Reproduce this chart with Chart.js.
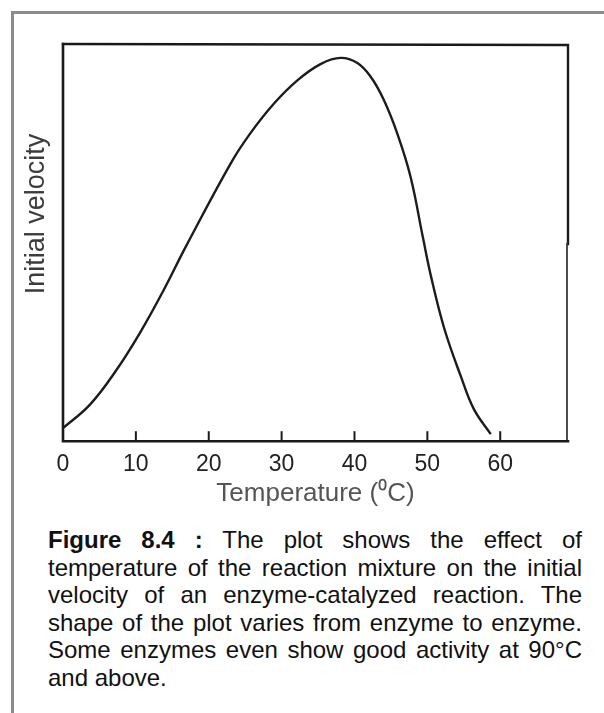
<!DOCTYPE html>
<html>
<head>
<meta charset="utf-8">
<script src="https://cdn.jsdelivr.net/npm/chart.js@4/dist/chart.umd.min.js"></script>
<style>
  html, body { margin: 0; padding: 0; background: #fff; }
  body { width: 604px; height: 713px; position: relative; overflow: hidden;
         font-family: "Liberation Sans", Arial, sans-serif; }
  .rule { position: absolute; background: #8c8c8c; }
  #ruleTop { left: 11px; top: 11px; width: 593px; height: 3px; }
  #ruleLeft { left: 11px; top: 11px; width: 3px; height: 702px; }
  #plot { position: absolute; left: 0; top: 0; }
  #caption { position: absolute; left: 48px; top: 526px; width: 534px;
             font-size: 24px; line-height: 27.6px; color: #111; }
  #caption div { text-align: justify; text-align-last: justify; white-space: nowrap; }
  #caption div.last { text-align-last: left; }
</style>
</head>
<body>
<div class="rule" id="ruleTop"></div>
<div class="rule" id="ruleLeft"></div>
<canvas id="plot" width="604" height="517"></canvas>
<div id="caption">
  <div><b>Figure 8.4 :</b> The plot shows the effect of</div>
  <div>temperature of the reaction mixture on the initial</div>
  <div>velocity of an enzyme-catalyzed reaction. The</div>
  <div>shape of the plot varies from enzyme to enzyme.</div>
  <div>Some enzymes even show good activity at 90°C</div>
  <div class="last">and above.</div>
</div>
<script>
// Temperature (°C) and relative initial velocity along the curve
const temperature = [0, 3.7, 7.4, 10.6, 13.8, 16.8, 23, 25.7, 28.9, 32.2, 35.4, 38.1,
                     40.4, 42.2, 44, 45.9, 47.7, 49.4, 50.5, 52.3, 54.6, 56.4, 58.7];
const velocity = [3.3, 9.2, 18.1, 27.4, 38, 48.8, 69.9, 77.5, 84.9, 90.9, 95, 96.5,
                  95.2, 91.8, 86, 77.3, 66.5, 51.2, 41.5, 28.5, 16.3, 8, 1.8];
const tickValues = [0, 10, 20, 30, 40, 50, 60];
const xTitle = 'Temperature (\u2070C)';
const yTitle = 'Initial velocity';

const FONT = '"Liberation Sans", Arial, sans-serif';

// Frame around the plot, inward tick marks and the vertical axis title
const plotFrame = {
  id: 'plotFrame',
  afterDraw(chart) {
    const { ctx, chartArea: a, scales } = chart;
    ctx.save();
    ctx.strokeStyle = '#1a1a1a';
    ctx.lineCap = 'square';
    ctx.lineWidth = 2.4;
    ctx.beginPath();
    ctx.moveTo(a.left, a.top);
    ctx.lineTo(a.right, a.top + 1);
    ctx.lineTo(a.right, a.top + 200);
    ctx.stroke();
    ctx.strokeStyle = '#3a3a3a';
    ctx.lineWidth = 1.8;
    ctx.beginPath();
    ctx.moveTo(a.right - 1, a.top + 200);
    ctx.lineTo(a.right - 1, a.bottom);
    ctx.stroke();
    ctx.strokeStyle = '#1a1a1a';
    ctx.lineWidth = 2.6;
    ctx.beginPath();
    ctx.moveTo(a.left, a.top);
    ctx.lineTo(a.left, a.bottom);
    ctx.lineTo(a.right, a.bottom);
    ctx.stroke();
    ctx.lineWidth = 2;
    ctx.lineCap = 'butt';
    tickValues.forEach(v => {
      if (v === 0) return;
      const x = scales.x.getPixelForValue(v);
      ctx.beginPath();
      ctx.moveTo(x, a.bottom);
      ctx.lineTo(x, a.bottom - 10);
      ctx.stroke();
    });
    ctx.translate(37, 214);
    ctx.rotate(-Math.PI / 2);
    ctx.fillStyle = '#3c3c3c';
    ctx.font = '27px ' + FONT;
    ctx.textAlign = 'center';
    ctx.textBaseline = 'middle';
    ctx.fillText(yTitle, 0, 0);
    ctx.restore();
  }
};

new Chart(document.getElementById('plot'), {
  type: 'line',
  data: {
    datasets: [{
      data: temperature.map((t, i) => ({ x: t, y: velocity[i] })),
      borderColor: '#1c1c1c',
      borderWidth: 2.4,
      pointRadius: 0,
      fill: false,
      tension: 0.4
    }]
  },
  options: {
    responsive: false,
    animation: false,
    devicePixelRatio: 1,
    layout: { padding: { left: 63, top: 44, right: 36, bottom: 8 } },
    plugins: { legend: { display: false }, tooltip: { enabled: false } },
    scales: {
      x: {
        type: 'linear',
        min: 0,
        max: 69.3,
        afterBuildTicks: s => { s.ticks = tickValues.map(v => ({ value: v })); },
        grid: { display: false, drawTicks: false },
        border: { display: false },
        ticks: { color: '#222', padding: 10, maxRotation: 0, autoSkip: false,
                 font: { size: 23, family: FONT } },
        title: { display: true, text: xTitle, color: '#555',
                 font: { size: 26, family: FONT }, padding: { top: -11, bottom: 0 } }
      },
      y: { display: false, min: 0, max: 100 }
    }
  },
  plugins: [plotFrame]
});
</script>
</body>
</html>
